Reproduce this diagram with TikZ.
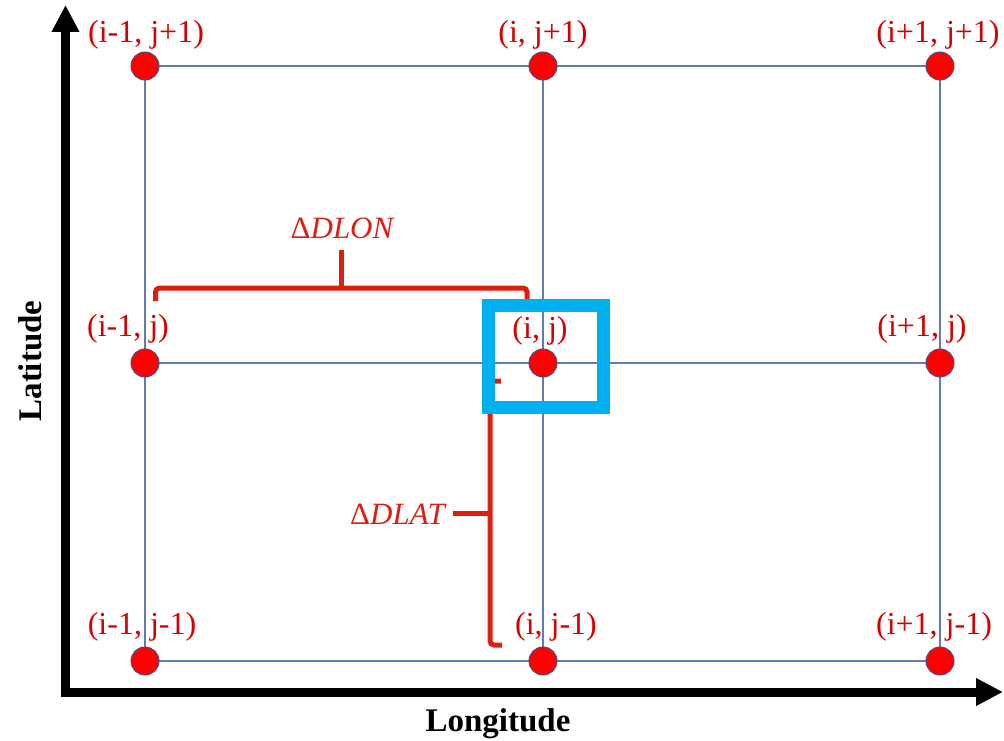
\documentclass[tikz,border=0pt]{standalone}
\usepackage{fontspec}
\setmainfont{Liberation Serif}
\usetikzlibrary{arrows.meta}
\definecolor{gridblue}{RGB}{95,125,180}
\definecolor{dotred}{RGB}{255,0,0}
\definecolor{dotedge}{RGB}{70,80,135}
\definecolor{labred}{RGB}{215,0,0}
\definecolor{brred}{RGB}{222,30,15}
\definecolor{boxblue}{RGB}{0,176,240}
\begin{document}
\begin{tikzpicture}[x=1pt,y=-1pt,
  dot/.style={circle,fill=dotred,draw=dotedge,line width=1pt,minimum size=28pt,inner sep=0pt},
  lab/.style={text=labred,font=\fontsize{32}{32}\selectfont,inner sep=0pt},
  gridline/.style={draw=gridblue,line width=1.4pt},
  axis/.style={line width=9pt,-{Triangle[length=27pt,width=26pt]}},
  bracket/.style={draw=brred,line width=5pt,rounded corners=4pt},
  mathlab/.style={text=brred,font=\fontsize{31}{31}\selectfont\itshape,inner sep=0pt},
  axlab/.style={font=\bfseries\fontsize{33}{33}\selectfont,inner sep=0pt}]
\useasboundingbox (0,0) rectangle (1004,741);
% grid points
\coordinate (pa1) at (145,66);  \coordinate (pb1) at (543,66);  \coordinate (pc1) at (940,66);
\coordinate (pa2) at (145,363); \coordinate (pb2) at (543,363); \coordinate (pc2) at (940,363);
\coordinate (pa3) at (145,661); \coordinate (pb3) at (543,661); \coordinate (pc3) at (940,661);
% grid lines
\draw[gridline] (pa1) -- (pc1);
\draw[gridline] (pa2) -- (pc2);
\draw[gridline] (pa3) -- (pc3);
\draw[gridline] (pa1) -- (pa3);
\draw[gridline] (pb1) -- (pb3);
\draw[gridline] (pc1) -- (pc3);
% axes
\coordinate (yo) at (65.5,697);
\coordinate (ytip) at (65.5,5);
\coordinate (xo) at (61,692);
\coordinate (xtip) at (1003,692);
\draw[axis] (yo) -- (ytip);
\draw[axis] (xo) -- (xtip);
\node[axlab,rotate=90] (latlab) at (30,361) {Latitude};
\node[axlab] (lonlab) at (498,724) {Longitude};
% DLON bracket
\coordinate (lonL) at (155.5,301);
\coordinate (lonR) at (527,301);
\coordinate (lonM) at (341,288);
\coordinate (lonT) at (341,250);
\draw[bracket] (lonL) -- (155.5,288) -- (527,288) -- (lonR);
\draw[bracket,rounded corners=0pt] (lonM) -- (lonT);
\node[mathlab] (dlon) at (342,228) {{\upshape Δ}DLON};
% DLAT bracket
\coordinate (latT) at (501,381);
\coordinate (latB) at (502,645);
\coordinate (latM) at (490,513);
\coordinate (latK) at (453,513);
\draw[bracket] (latT) -- (490,381) -- (490,645) -- (latB);
\draw[bracket,rounded corners=0pt] (latM) -- (latK);
\node[mathlab,anchor=east] (dlat) at (445,514) {{\upshape Δ}DLAT};
% highlight box
\draw[draw=boxblue,line width=13pt] (488.5,305) rectangle (603.5,407);
% dots
\foreach \p in {a1,b1,c1,a2,b2,c2,a3,b3,c3}{\node[dot] (d\p) at (p\p) {};}
% labels
\node[lab] (la1) at (146,35) {(i-1, j+1)};
\node[lab] (lb1) at (543,35) {(i, j+1)};
\node[lab] (lc1) at (938,35) {(i+1, j+1)};
\node[lab] (la2) at (128,329) {(i-1, j)};
\node[lab] (lb2) at (540,331) {(i, j)};
\node[lab] (lc2) at (922,329) {(i+1, j)};
\node[lab] (la3) at (142,627) {(i-1, j-1)};
\node[lab] (lb3) at (556,627) {(i, j-1)};
\node[lab] (lc3) at (934,627) {(i+1, j-1)};
\end{tikzpicture}
\end{document}
